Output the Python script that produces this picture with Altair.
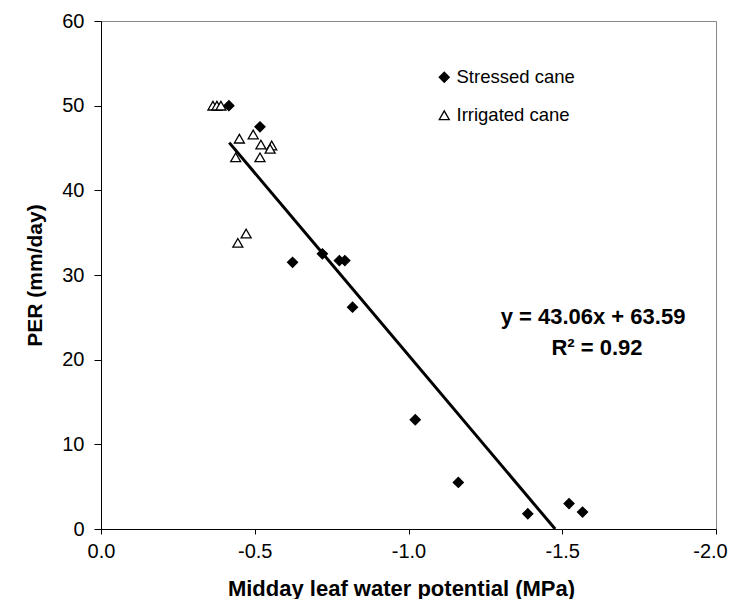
import altair as alt
import pandas as pd

# Stressed cane (filled diamonds)
stressed_x = [-0.416, -0.517, -0.623, -0.720, -0.775, -0.793, -0.818, -1.022, -1.162, -1.388, -1.522, -1.566]
stressed_y = [50.0, 47.5, 31.5, 32.5, 31.7, 31.7, 26.2, 12.9, 5.5, 1.8, 3.0, 2.0]

# Irrigated cane (open triangles)
irrigated_x = [-0.364, -0.377, -0.390, -0.450, -0.495, -0.520, -0.555, -0.550, -0.438, -0.517, -0.472, -0.445]
irrigated_y = [50.0, 50.0, 50.0, 46.1, 46.6, 45.4, 45.3, 44.9, 43.9, 43.9, 34.9, 33.8]

series_names = ["Stressed cane", "Irrigated cane"]

# Regression line  y = 43.06x + 63.59
slope = 43.06
intercept = 63.59
line_x = [-0.417, -1.477]

annot_text = ["y = 43.06x + 63.59", "R² = 0.92"]
annot_x = [-1.600, -1.613]
annot_y = [25.0, 21.4]

FONT = "Liberation Sans"

pts = pd.DataFrame(
    {
        "x": stressed_x + irrigated_x,
        "y": stressed_y + irrigated_y,
        "series": [series_names[0]] * len(stressed_x) + [series_names[1]] * len(irrigated_x),
    }
)
line_df = pd.DataFrame({"x": line_x, "y": [slope * v + intercept for v in line_x]})
annot_df = pd.DataFrame({"x": annot_x, "y": annot_y, "t": annot_text})

xscale = alt.Scale(domain=[-2, 0], reverse=True, nice=False, zero=False)
yscale = alt.Scale(domain=[0, 60], nice=False)

xaxis = alt.Axis(
    title="Midday leaf water potential (MPa)",
    values=[0, -0.5, -1.0, -1.5, -2.0],
    labelExpr="datum.value == 0 ? '0.0' : '-' + format(-datum.value, '.1f')",
    labelFlush=False,
    labelOffset={"condition": {"test": "datum.value < -1.99", "value": -6}, "value": 0},
    grid=False,
    domainColor="black",
    tickColor="black",
    tickSize=5,
    labelFont=FONT,
    labelFontSize=20,
    labelColor="black",
    labelPadding=7,
    titleFont=FONT,
    titleFontSize=22,
    titleFontWeight="bold",
    titleColor="black",
    titlePadding=17,
    titleX=300,
)
yaxis = alt.Axis(
    title="PER (mm/day)",
    values=[0, 10, 20, 30, 40, 50, 60],
    format="d",
    grid=False,
    domainColor="black",
    tickColor="black",
    tickSize=7,
    labelFont=FONT,
    labelFontSize=20,
    labelColor="black",
    labelPadding=10,
    titleFont=FONT,
    titleFontSize=21,
    titleFontWeight="bold",
    titleColor="black",
    titlePadding=16,
)

leg = dict(title=None, orient="none", legendX=334, legendY=47)

points = (
    alt.Chart(pts)
    .mark_point(size=100, strokeWidth=1.3, opacity=1)
    .encode(
        x=alt.X("x:Q", scale=xscale, axis=xaxis),
        y=alt.Y("y:Q", scale=yscale, axis=yaxis),
        shape=alt.Shape(
            "series:N",
            scale=alt.Scale(domain=series_names, range=["diamond", "triangle-up"]),
            legend=alt.Legend(**leg),
        ),
        fill=alt.Fill(
            "series:N",
            scale=alt.Scale(domain=series_names, range=["black", "white"]),
            legend=alt.Legend(**leg),
        ),
        stroke=alt.Stroke(
            "series:N",
            scale=alt.Scale(domain=series_names, range=["black", "black"]),
            legend=alt.Legend(**leg),
        ),
    )
)

line = (
    alt.Chart(line_df)
    .mark_line(color="black", strokeWidth=3)
    .encode(x=alt.X("x:Q", scale=xscale), y=alt.Y("y:Q", scale=yscale))
)

annot = (
    alt.Chart(annot_df)
    .mark_text(font=FONT, fontSize=22, fontWeight="bold", color="black", align="center", baseline="middle")
    .encode(x=alt.X("x:Q", scale=xscale), y=alt.Y("y:Q", scale=yscale), text="t:N")
)

chart = (
    alt.layer(line, points, annot)
    .properties(
        width=615,
        height=508,
        autosize=alt.AutoSizeParams(type="none"),
        padding={"left": 93, "top": 13, "right": 12, "bottom": 70},
        background="white",
    )
    .configure_view(stroke="#888888", strokeWidth=1)
    .configure_legend(
        labelFont=FONT,
        labelFontSize=18.5,
        labelColor="black",
        symbolStrokeColor="black",
        symbolStrokeWidth=1.3,
        symbolSize=100,
        rowPadding=19,
        labelOffset=3,
    )
)

chart.save("out.html", embed_options={"renderer": "svg", "actions": False})
